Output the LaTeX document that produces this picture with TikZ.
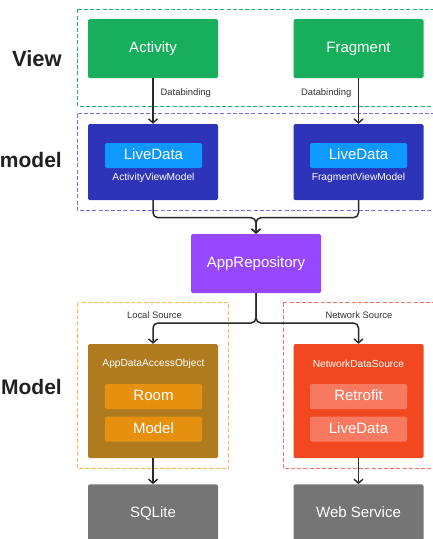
\documentclass[tikz,border=0pt]{standalone}
\usepackage{fontspec}
\setmainfont{Liberation Sans}
\usetikzlibrary{arrows.meta}
\definecolor{cgreen}{HTML}{17AE5C}
\definecolor{cgreendash}{HTML}{22B468}
\definecolor{cnavy}{HTML}{2E34B8}
\definecolor{cbluedash}{HTML}{7073DE}
\definecolor{cblue}{HTML}{0D99FF}
\definecolor{cpurple}{HTML}{9747FF}
\definecolor{cbrown}{HTML}{B07A1E}
\definecolor{corange}{HTML}{E5900F}
\definecolor{corangedash}{HTML}{FFB74D}
\definecolor{cred}{HTML}{F24822}
\definecolor{clightred}{HTML}{F77A60}
\definecolor{creddash}{HTML}{F37360}
\definecolor{cgray}{HTML}{757575}
\definecolor{cline}{HTML}{2A2A2A}
\definecolor{ctext}{HTML}{333333}
\begin{document}
\begin{tikzpicture}[x=1pt,y=-1pt,
  box/.style={rounded corners=1.5pt,text=white,inner sep=0pt,text height=11pt,text depth=3pt,font=\fontsize{15}{18}\selectfont},
  bigbox/.style={box,minimum width=130pt},
  inbox/.style={box,minimum width=97pt,minimum height=25pt},
  group/.style={line width=1.25pt,dash pattern=on 4pt off 2.2pt},
  small/.style={text=ctext,inner sep=0pt,font=\fontsize{9.4}{11}\selectfont},
  sub/.style={text=white,inner sep=0pt,font=\fontsize{10.2}{12}\selectfont},
  layer/.style={anchor=base east,inner sep=0pt,text=black!87,font=\fontsize{21}{25}\selectfont\bfseries},
  conn/.style={draw=cline,line width=1.5pt,rounded corners=5pt,-{Straight Barb[length=4pt,width=9pt,line width=1.4pt]}}
]
\useasboundingbox (0,0) rectangle (432,539);
% dashed groups
\draw[group,draw=cgreendash] (77.7,9.3) -- (445,9.3) (77.7,9.3) -- (77.7,106.7) -- (445,106.7);
\draw[group,draw=cbluedash] (77.7,113.7) -- (445,113.7) (77.7,113.7) -- (77.7,210.7) -- (445,210.7);
\draw[group,draw=corangedash] (77.7,302.7) rectangle (228.7,468.7);
\draw[group,draw=creddash] (283.3,302.7) -- (445,302.7) (283.3,302.7) -- (283.3,468.7) -- (445,468.7);
% layer labels
\node[layer,font=\fontsize{22}{26}\selectfont\bfseries] (lview) at (62,66.7) {View};
\node[layer] (lvm) at (62,167) {model};
\node[layer] (lmodel) at (62,394) {Model};
% view
\node[bigbox,fill=cgreen,minimum height=59pt] (act) at (153,48.5) {Activity};
\node[bigbox,fill=cgreen,minimum height=59pt] (frag) at (358.5,48.5) {Fragment};
% viewmodels
\node[bigbox,fill=cnavy,minimum height=76pt] (avm) at (153,162) {};
\node[bigbox,fill=cnavy,minimum height=76pt] (fvm) at (358.5,162) {};
\node[inbox,fill=cblue] (ald) at (153.5,155.5) {LiveData};
\node[inbox,fill=cblue] (fld) at (358.5,155.5) {LiveData};
\node[sub] (avmt) at (153.5,178) {ActivityViewModel};
\node[sub] (fvmt) at (358.5,178) {FragmentViewModel};
% repo
\node[bigbox,fill=cpurple,minimum height=59pt] (repo) at (256,263.5) {AppRepository};
% model
\node[bigbox,fill=cbrown,minimum height=114pt] (dao) at (153,401) {};
\node[bigbox,fill=cred,minimum height=114pt] (nds) at (358.5,401) {};
\node[sub] (daot) at (153.5,364) {AppDataAccessObject};
\node[sub] (ndst) at (358.5,364) {NetworkDataSource};
\node[inbox,fill=corange] (room) at (153.5,396.5) {Room};
\node[inbox,fill=corange] (mdl) at (153.5,429) {Model};
\node[inbox,fill=clightred] (retro) at (358.5,396.5) {Retrofit};
\node[inbox,fill=clightred] (nld) at (358.5,429) {LiveData};
\node[small] (lsrc) at (154.5,315) {Local Source};
\node[small] (nsrc) at (359,315) {Network Source};
% sinks
\node[bigbox,fill=cgray,minimum height=59pt] (sql) at (153,513.8) {SQLite};
\node[bigbox,fill=cgray,minimum height=59pt] (web) at (358.5,513.8) {Web Service};
% connectors
\draw[conn] (act.south) -- (avm.north);
\draw[conn] (frag.south) -- (fvm.north);
\node[small,anchor=west] (db1) at (160.5,93) {Databinding};
\node[small,anchor=east] (db2) at (351.5,93) {Databinding};
\coordinate (j1) at (256,217.7);
\coordinate (j2) at (256,323);
\draw[conn] (avm.south) |- (j1) -- (repo.north);
\draw[conn] (fvm.south) |- (j1) -- (repo.north);
\draw[conn] (repo.south) -- (j2) -| (dao.north);
\draw[conn] (repo.south) -- (j2) -| (nds.north);
\draw[conn] (dao.south) -- (sql.north);
\draw[conn] (nds.south) -- (web.north);
\end{tikzpicture}
\end{document}
